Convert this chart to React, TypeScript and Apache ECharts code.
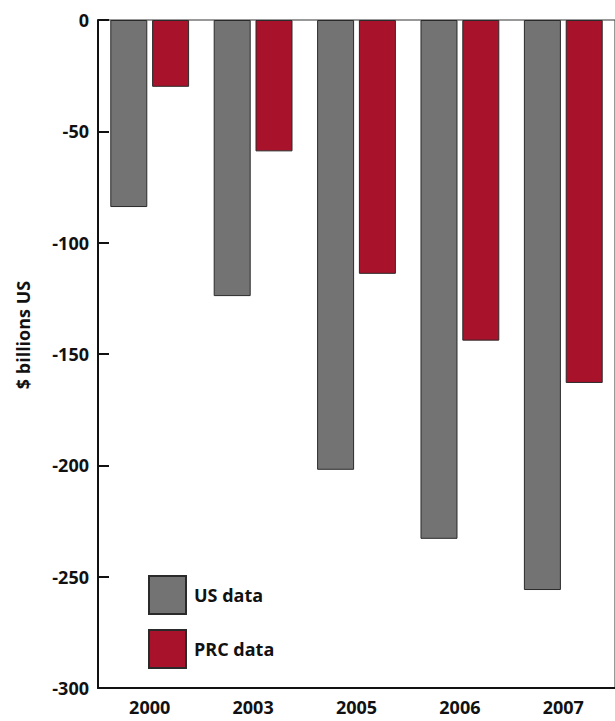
import React, { useEffect, useRef } from "react";
import * as echarts from "echarts";

const years = ["2000", "2003", "2005", "2006", "2007"];
const usData = [-84, -124, -202, -233, -256];
const prcData = [-30, -59, -114, -144, -163];
const yTicks = { min: -300, max: 0, interval: 50 };
const yTitle = "$ billions US";

const FONT = "'Open Sans', 'Noto Sans', sans-serif";

export default function App() {
  const ref = useRef<HTMLDivElement>(null);
  useEffect(() => {
    if (!ref.current) return;
    const chart = echarts.init(ref.current, null, { renderer: "svg" });
    chart.setOption({
      animation: false,
      backgroundColor: "#ffffff",
      grid: {
        left: 98,
        top: 20,
        width: 521,
        height: 668,
        show: true,
        borderColor: "#333333",
        borderWidth: 1,
      },
      legend: {
        orient: "vertical",
        left: 148,
        top: 575,
        padding: 0,
        itemWidth: 37,
        itemHeight: 38,
        itemGap: 14,
        icon: "rect",
        data: ["US data", "PRC data"],
        textStyle: {
          fontFamily: FONT,
          fontWeight: 700,
          fontSize: 18,
          color: "#111111",
          padding: [2, 0, 0, 3],
        },
      },
      graphic: [
        {
          type: "text",
          x: 23,
          y: 335,
          rotation: Math.PI / 2,
          style: {
            text: yTitle,
            align: "center",
            verticalAlign: "middle",
            fontFamily: FONT,
            fontWeight: 700,
            fontSize: 18,
            fill: "#111111",
          },
        },
      ],
      xAxis: {
        type: "category",
        data: years,
        position: "bottom",
        axisLine: { onZero: false, lineStyle: { color: "#111111", width: 2 } },
        axisTick: { show: false },
        axisLabel: {
          margin: 10,
          fontFamily: FONT,
          fontWeight: 700,
          fontSize: 18,
          color: "#111111",
        },
      },
      yAxis: {
        type: "value",
        min: yTicks.min,
        max: yTicks.max,
        interval: yTicks.interval,
        axisLine: { show: true, lineStyle: { color: "#111111", width: 2 } },
        axisTick: { show: true, inside: true, length: 11, lineStyle: { color: "#111111", width: 2 } },
        splitLine: { show: false },
        axisLabel: {
          margin: 9,
          fontFamily: FONT,
          fontWeight: 700,
          fontSize: 18,
          color: "#111111",
        },
      },
      series: [
        {
          name: "US data",
          type: "bar",
          data: usData,
          barWidth: 37,
          barGap: "13%",
          itemStyle: { color: "#737373", borderColor: "#2a2a2a", borderWidth: 1 },
        },
        {
          name: "PRC data",
          type: "bar",
          data: prcData,
          barWidth: 37,
          itemStyle: { color: "#A8122B", borderColor: "#2a2a2a", borderWidth: 1 },
        },
      ],
    });
    return () => chart.dispose();
  }, []);
  return (
    <div
      ref={ref}
      style={{ position: "absolute", left: 0, top: 0, width: 615, height: 721 }}
    />
  );
}
